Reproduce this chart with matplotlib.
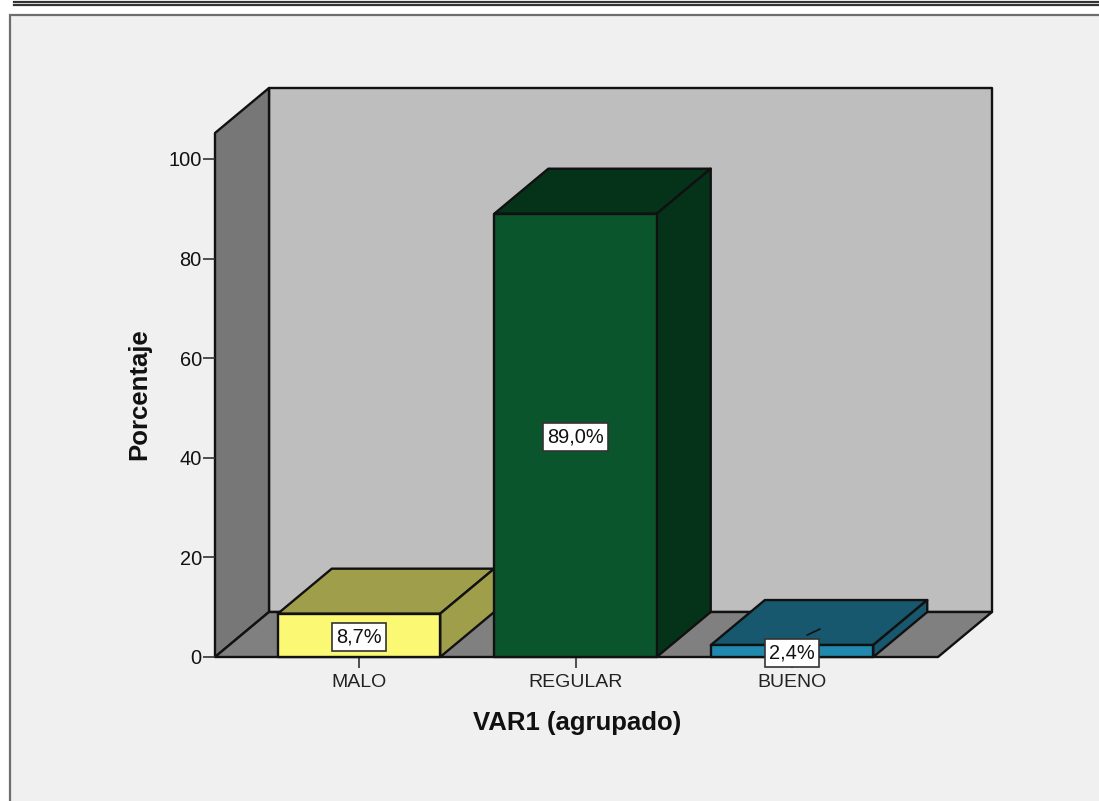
import matplotlib
matplotlib.use("Agg")
import matplotlib.pyplot as plt
from matplotlib.patches import Polygon, Rectangle
from matplotlib.lines import Line2D

categories = ["MALO", "REGULAR", "BUENO"]
values = [8.7, 89.0, 2.4]
labels = ["8,7%", "89,0%", "2,4%"]
front_colors = ["#fbf873", "#0b552c", "#2189ae"]
shade_colors = ["#9f9e4b", "#053319", "#17586f"]
yticks = [0, 20, 40, 60, 80, 100]

W, H = 1099, 801
plt.rcParams["font.family"] = ["Liberation Sans", "DejaVu Sans"]

fig = plt.figure(figsize=(W / 100, H / 100), dpi=100, facecolor="white")

# grey panel and the double rule above it, in pixels from the top left
fig.add_artist(Rectangle((10 / W, -0.01), 1.1, 1 - 15 / H + 0.01, transform=fig.transFigure,
                         facecolor="#f0f0f0", edgecolor="#6e6e6e", linewidth=1.6, zorder=-2))
for ypx, lw in [(1.5, 1.6), (4.5, 1.6)]:
    fig.add_artist(Line2D([14 / W, 1], [1 - ypx / H] * 2, color="#333333", linewidth=lw, zorder=-2))

left, right, top, bottom = 215, 938, 133, 657
ax = fig.add_axes([left / W, 1 - bottom / H, (right - left) / W, (bottom - top) / H])
ax.patch.set_visible(False)
ax.set_xlim(-0.665, 2.674)
ax.set_ylim(0, 105.2)

# depth of the 3D box in data units
dx = 54 / (right - left) * (2.674 + 0.665)
dy = 45 / (bottom - top) * 105.2
bar_w = 0.75
x0, x1 = ax.get_xlim()
y1 = ax.get_ylim()[1]
edge = dict(edgecolor="#111111", linewidth=1.7, joinstyle="round", clip_on=False)


def poly(pts, color, z):
    ax.add_patch(Polygon(pts, closed=True, facecolor=color, zorder=z, **edge))


# walls and floor
poly([(x0 + dx, dy), (x1 + dx, dy), (x1 + dx, y1 + dy), (x0 + dx, y1 + dy)], "#bebebe", 1)
poly([(x0, 0), (x0 + dx, dy), (x0 + dx, y1 + dy), (x0, y1)], "#777777", 1.1)
poly([(x0, 0), (x1, 0), (x1 + dx, dy), (x0 + dx, dy)], "#808080", 1.2)

# bars, left to right so each one hides the side of the previous one
for i, v in enumerate(values):
    a, b = i - bar_w / 2, i + bar_w / 2
    z = 2 + i
    poly([(a, v), (b, v), (b + dx, v + dy), (a + dx, v + dy)], shade_colors[i], z)
    poly([(b, 0), (b + dx, dy), (b + dx, v + dy), (b, v)], shade_colors[i], z)
    poly([(a, 0), (b, 0), (b, v), (a, v)], front_colors[i], z + 0.1)

# leader stub of the small bar's label
ax.plot([2 + 0.07, 2 + 0.128], [4.4, 5.6], color="#111111", linewidth=1.2, zorder=5.5)

for i, v in enumerate(values):
    ax.annotate(labels[i], (i, v / 2), xytext=(0, -1.2), textcoords="offset points",
                ha="center", va="center", fontsize=14.4, color="#111111", zorder=6,
                bbox=dict(boxstyle="square,pad=0.22", facecolor="white", edgecolor="#333333", linewidth=1.2))

for s in ["top", "right", "left", "bottom"]:
    ax.spines[s].set_visible(False)

ax.set_xticks(range(len(categories)))
ax.set_xticklabels(categories)
ax.set_yticks(yticks)
ax.tick_params(axis="x", length=8, width=1.2, color="#333333", labelsize=14, pad=4.5, labelcolor="#222222")
ax.tick_params(axis="y", length=8.5, width=1.2, color="#333333", labelsize=14.4, pad=1, labelcolor="#111111")

fig.text(139 / W, 1 - 394 / H, "Porcentaje", rotation=90, ha="center", va="center",
         fontsize=18.5, fontweight="bold", color="#111111")
fig.text(577 / W, 1 - 723 / H, "VAR1 (agrupado)", ha="center", va="center",
         fontsize=18.5, fontweight="bold", color="#111111")

fig.savefig("out.png", dpi=100, facecolor=fig.get_facecolor())
